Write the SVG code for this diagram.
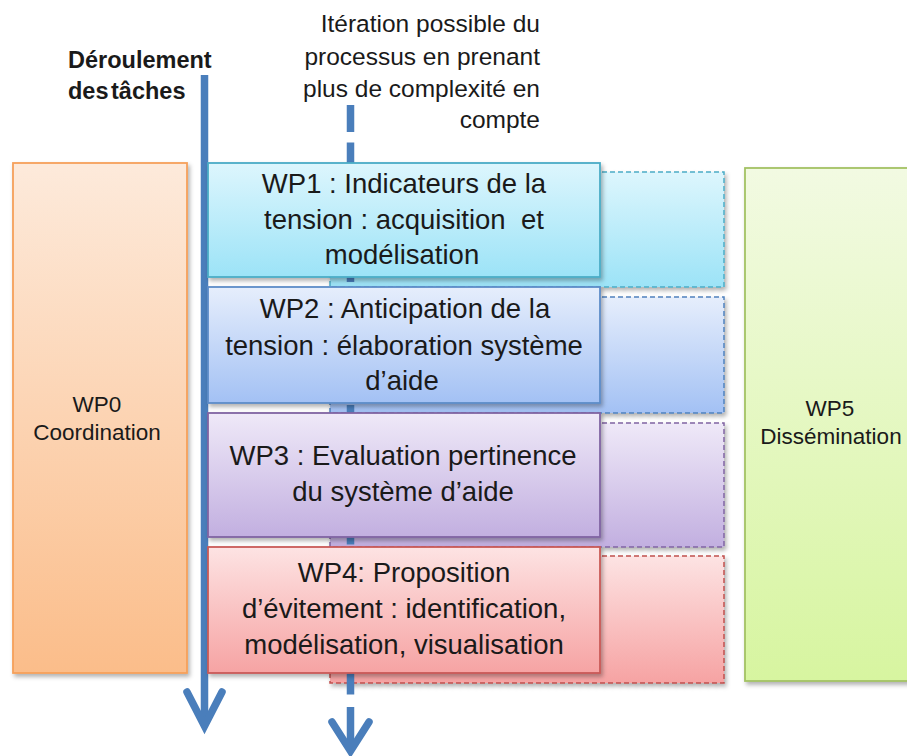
<svg xmlns="http://www.w3.org/2000/svg" width="907" height="756" viewBox="0 0 907 756">
  <style>
    text { font-family: "Liberation Sans", Arial, sans-serif; fill: #1a1a1a; white-space: pre; }
    .side { font-size: 22.5px; text-anchor: middle; }
    .wp { font-size: 27.5px; text-anchor: middle; }
    .note { font-size: 24.5px; text-anchor: end; }
    .head { font-size: 23.5px; font-weight: bold; }
    .flow { fill: none; stroke: #4A7EBB; stroke-width: 7.5; }
    .dash { stroke-dasharray: 27 10.5; }
    .box { stroke-width: 1.8; filter: url(#shadow); }
    .iter { stroke-width: 1.5; stroke-dasharray: 5 3; filter: url(#shadow); }
  </style>
  <defs>
    <filter id="shadow" x="-10%" y="-10%" width="125%" height="125%">
      <feDropShadow dx="2" dy="3" stdDeviation="2" flood-color="#000" flood-opacity="0.3"/>
    </filter>
    <linearGradient id="gOrange" x1="0" y1="0" x2="0" y2="1">
      <stop offset="0" stop-color="#FDEADB"/>
      <stop offset="1" stop-color="#FBBD8A"/>
    </linearGradient>
    <linearGradient id="gGreen" x1="0" y1="0" x2="0" y2="1">
      <stop offset="0" stop-color="#F2FAE2"/>
      <stop offset="1" stop-color="#D7F5A0"/>
    </linearGradient>
    <linearGradient id="gCyan" x1="0" y1="0" x2="0" y2="1">
      <stop offset="0" stop-color="#DDF6FD"/>
      <stop offset="1" stop-color="#9CE3F7"/>
    </linearGradient>
    <linearGradient id="gBlue" x1="0" y1="0" x2="0" y2="1">
      <stop offset="0" stop-color="#E6EEFC"/>
      <stop offset="1" stop-color="#A3C1F4"/>
    </linearGradient>
    <linearGradient id="gPurple" x1="0" y1="0" x2="0" y2="1">
      <stop offset="0" stop-color="#EFE9F8"/>
      <stop offset="1" stop-color="#C2AFE0"/>
    </linearGradient>
    <linearGradient id="gRed" x1="0" y1="0" x2="0" y2="1">
      <stop offset="0" stop-color="#FDE3E3"/>
      <stop offset="1" stop-color="#F6A3A3"/>
    </linearGradient>
  </defs>

  <rect width="907" height="756" fill="#ffffff"/>

  <!-- side work packages -->
  <g id="wp0">
    <rect class="box" x="13" y="163" width="174" height="510" fill="url(#gOrange)" stroke="#F5A05A"/>
    <text class="side" x="97" y="412">WP0</text>
    <text class="side" x="97" y="440">Coordination</text>
  </g>
  <g id="wp5">
    <rect class="box" x="745" y="168" width="175" height="513" fill="url(#gGreen)" stroke="#A3C264"/>
    <text class="side" x="830" y="416">WP5</text>
    <text class="side" x="831" y="444">Dissémination</text>
  </g>

  <!-- dashed iteration layers behind the task boxes -->
  <g id="iterations">
    <rect id="wp1-iter" class="iter" x="330" y="172" width="394" height="115" fill="url(#gCyan)" stroke="#4BACC6"/>
    <rect id="wp2-iter" class="iter" x="330" y="297" width="394" height="116" fill="url(#gBlue)" stroke="#4F81BD"/>
    <rect id="wp3-iter" class="iter" x="330" y="423" width="394" height="124" fill="url(#gPurple)" stroke="#8064A2"/>
    <rect id="wp4-iter" class="iter" x="330" y="556" width="394" height="127" fill="url(#gRed)" stroke="#C0504D"/>
  </g>

  <!-- flow arrows -->
  <g id="connectors">
    <line class="flow" x1="204.5" y1="75" x2="204.5" y2="722"/>
    <polyline class="flow" points="187,692 204.5,726 222,692" stroke-width="8" stroke-linecap="round"/>
    <line class="flow dash" x1="350.5" y1="105" x2="350.5" y2="697" stroke-width="8"/>
    <line class="flow" x1="350.5" y1="707" x2="350.5" y2="748" stroke-width="8"/>
    <polyline class="flow" points="332,722 350.5,751 369,722" stroke-width="8" stroke-linecap="round"/>
  </g>

  <!-- task boxes -->
  <g id="wp1">
    <rect class="box" x="208" y="163" width="392" height="114" fill="url(#gCyan)" stroke="#4BACC6"/>
    <text class="wp" x="404" y="193">WP1 : Indicateurs de la</text>
    <text class="wp" x="404" y="229">tension : acquisition  et</text>
    <text class="wp" x="402" y="264">modélisation</text>
  </g>
  <g id="wp2">
    <rect class="box" x="208" y="287" width="392" height="116" fill="url(#gBlue)" stroke="#5D8CC8"/>
    <text class="wp" x="405" y="318">WP2 : Anticipation de la</text>
    <text class="wp" x="404" y="355">tension : élaboration système</text>
    <text class="wp" x="402" y="390">d’aide</text>
  </g>
  <g id="wp3">
    <rect class="box" x="208" y="413" width="392" height="124" fill="url(#gPurple)" stroke="#8064A2"/>
    <text class="wp" x="403" y="465">WP3 : Evaluation pertinence</text>
    <text class="wp" x="403" y="501">du système d’aide</text>
  </g>
  <g id="wp4">
    <rect class="box" x="208" y="547" width="392" height="126" fill="url(#gRed)" stroke="#C95A57"/>
    <text class="wp" x="404" y="582">WP4: Proposition</text>
    <text class="wp" x="404" y="618">d’évitement : identification,</text>
    <text class="wp" x="404" y="654">modélisation, visualisation</text>
  </g>

  <!-- captions -->
  <g id="labels">
    <text class="head" x="68" y="68">Déroulement</text>
    <text class="head" x="68" y="99" word-spacing="-4">des tâches</text>
    <text class="note" x="540" y="32">Itération possible du</text>
    <text class="note" x="540" y="65">processus en prenant</text>
    <text class="note" x="540" y="97">plus de complexité en</text>
    <text class="note" x="540" y="128">compte</text>
  </g>
</svg>
